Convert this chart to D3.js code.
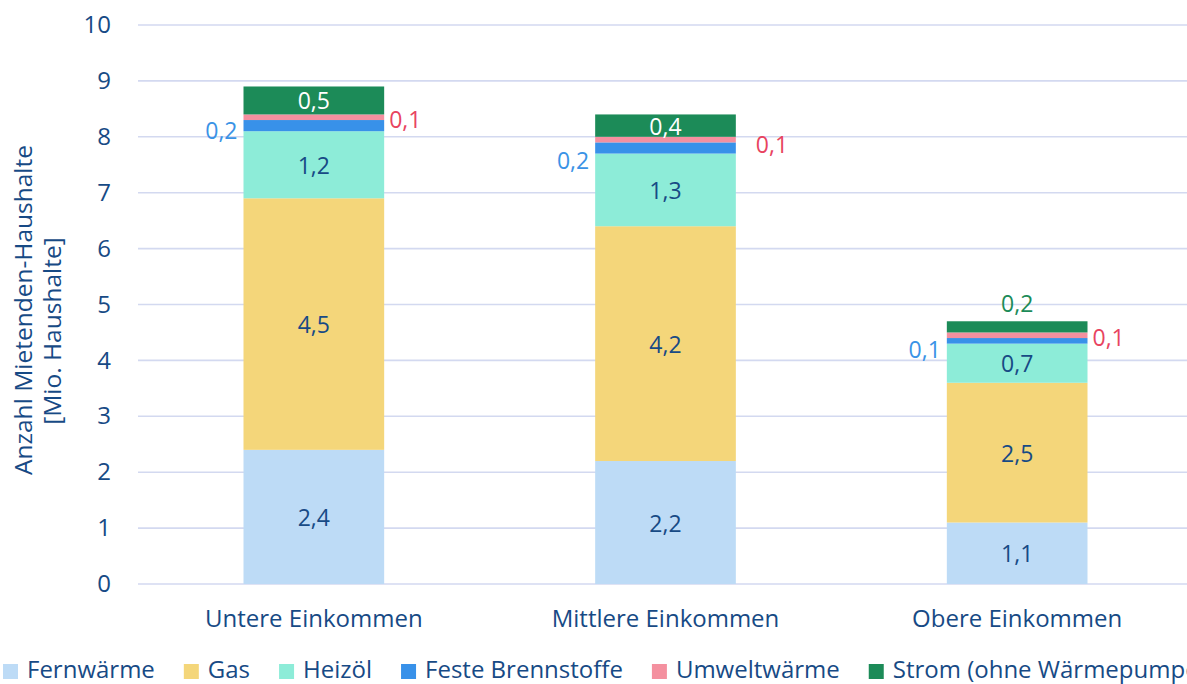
<!DOCTYPE html>
<html>
<head>
<meta charset="utf-8">
<script src="https://cdn.jsdelivr.net/npm/d3@7"></script>
<style>
  body { margin: 0; background: #fff; }
  svg text { font-family: "Open Sans", Roboto, sans-serif; }
</style>
</head>
<body>
<svg id="chart" width="1187" height="684"></svg>
<script>
var categories = ["Untere Einkommen", "Mittlere Einkommen", "Obere Einkommen"],
    series = ["Fernwärme", "Gas", "Heizöl", "Feste Brennstoffe", "Umweltwärme", "Strom (ohne Wärmepumpe)"],
    fernwaerme = [2.4, 2.2, 1.1],
    gas = [4.5, 4.2, 2.5],
    heizoel = [1.2, 1.3, 0.7],
    feste = [0.2, 0.2, 0.1],
    umwelt = [0.1, 0.1, 0.1],
    strom = [0.5, 0.4, 0.2],
    yTicks = [0, 1, 2, 3, 4, 5, 6, 7, 8, 9, 10];

var colors = ["#bddbf6", "#f4d67a", "#8decd8", "#3891e9", "#f4909f", "#1c8b58"],
    TEXT = "#174a85",
    // nudges for the labels set beside the bars: [feste dy, umwelt dx, umwelt dy]
    sideNudge = [[4, 0, 2], [12, 15, 4], [8, 0, 2]];

var values = [fernwaerme, gas, heizoel, feste, umwelt, strom];

var svg = d3.select("#chart"),
    x = d3.scaleBand().domain(categories).range([138, 1193]).paddingInner(0.6).paddingOuter(0.3),
    y = d3.scaleLinear().domain([0, 10]).range([584, 25]);

var fmt = function (v) { return d3.format(".1f")(v).replace(".", ","); };

// stacked data
var rows = categories.map(function (c, i) {
  var r = { cat: c };
  series.forEach(function (s, j) { r[s] = values[j][i]; });
  return r;
});
var stacked = d3.stack().keys(series)(rows);

// gridlines
svg.append("g").selectAll("line").data(yTicks).enter().append("line")
  .attr("x1", 138).attr("x2", 1187)
  .attr("y1", function (d) { return y(d); }).attr("y2", function (d) { return y(d); })
  .style("stroke", "#d3d9f0").style("stroke-width", 1.6);

// y axis labels
var yAxis = svg.append("g").attr("transform", "translate(111,0)")
  .call(d3.axisLeft(y).tickValues(yTicks).tickSize(0).tickPadding(0));
yAxis.select(".domain").remove();
yAxis.selectAll("text").style("font-size", "24px").style("fill", TEXT)
  .style("font-family", "'Open Sans', sans-serif");

// x axis labels
var xAxis = svg.append("g").attr("transform", "translate(0,0)")
  .call(d3.axisBottom(x).tickSize(0).tickPadding(0));
xAxis.select(".domain").remove();
xAxis.selectAll("text").attr("y", 627).attr("dy", null)
  .style("font-size", "24px").style("fill", TEXT)
  .style("font-family", "'Open Sans', sans-serif");

// axis title, two lines
svg.append("text")
  .attr("transform", "translate(32,310) rotate(-90)")
  .attr("text-anchor", "middle")
  .style("font-size", "24.5px").style("fill", TEXT)
  .text("Anzahl Mietenden-Haushalte");
svg.append("text")
  .attr("transform", "translate(61,331) rotate(-90)")
  .attr("text-anchor", "middle")
  .style("font-size", "24.5px").style("fill", TEXT)
  .text("[Mio. Haushalte]");

// bars
var layers = svg.append("g").selectAll("g.layer").data(stacked).enter()
  .append("g").attr("class", "layer")
  .style("fill", function (d, i) { return colors[i]; });

layers.selectAll("rect").data(function (d) { return d; }).enter().append("rect")
  .attr("x", function (d) { return x(d.data.cat); })
  .attr("width", x.bandwidth())
  .attr("y", function (d) { return y(d[1]); })
  .attr("height", function (d) { return y(d[0]) - y(d[1]); });

// labels
var labels = svg.append("g").style("font-size", "23px");
stacked.forEach(function (layer, j) {
  layer.forEach(function (d, i) {
    var cx = x(d.data.cat) + x.bandwidth() / 2,
        cy = (y(d[0]) + y(d[1])) / 2,
        v = d[1] - d[0],
        t = labels.append("text").attr("dominant-baseline", "central").text(fmt(v));
    if (j <= 2) {
      t.attr("x", cx).attr("y", cy).attr("text-anchor", "middle").style("fill", TEXT);
    } else if (j === 3) {
      t.attr("x", x(d.data.cat) - 6).attr("y", cy + sideNudge[i][0])
        .attr("text-anchor", "end").style("fill", "#3a93e6");
    } else if (j === 4) {
      t.attr("x", x(d.data.cat) + x.bandwidth() + 5 + sideNudge[i][1]).attr("y", cy + sideNudge[i][2])
        .attr("text-anchor", "start").style("fill", "#e8445f");
    } else {
      if (y(d[0]) - y(d[1]) > 20) {
        t.attr("x", cx).attr("y", cy).attr("text-anchor", "middle").style("fill", "#fff");
      } else {
        t.attr("x", cx).attr("y", y(d[1]) - 18).attr("text-anchor", "middle").style("fill", colors[5]);
      }
    }
  });
});

// legend
var legend = svg.append("g").attr("transform", "translate(3,0)"),
    lx = 0;
series.forEach(function (s, i) {
  var g = legend.append("g").attr("transform", "translate(" + lx + ",0)");
  g.append("rect").attr("x", 0).attr("y", 664).attr("width", 15).attr("height", 15).style("fill", colors[i]);
  var t = g.append("text").attr("x", 24).attr("y", 678).text(s)
    .style("font-size", "24px").style("fill", TEXT);
  lx += 24 + t.node().getComputedTextLength() + 29;
});
</script>
</body>
</html>
